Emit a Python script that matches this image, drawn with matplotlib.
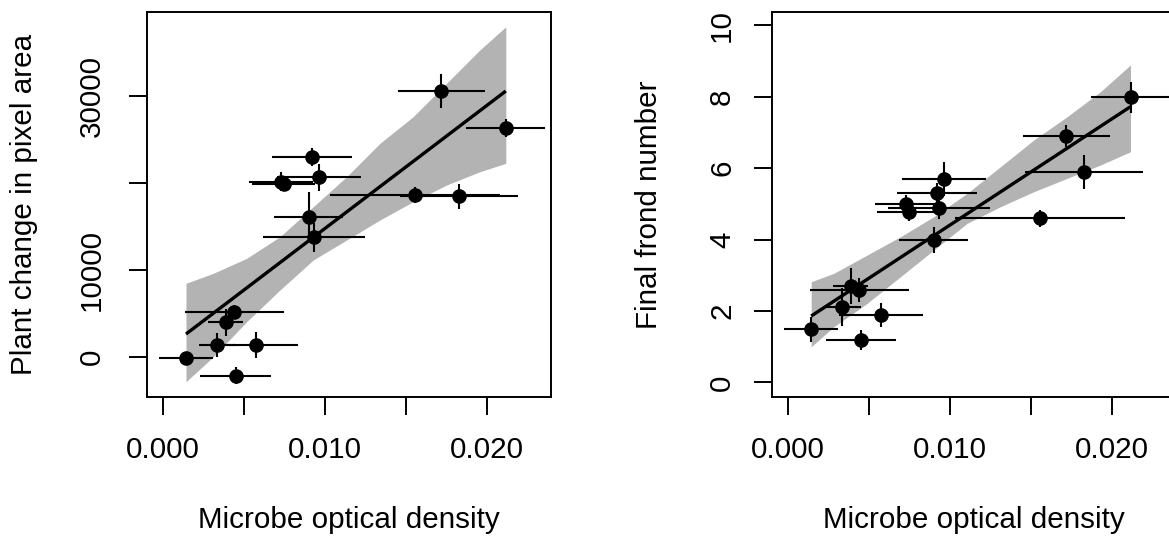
import numpy as np
import matplotlib
matplotlib.use("Agg")
import matplotlib.pyplot as plt

plt.rcParams["font.family"] = ["Liberation Sans", "DejaVu Sans"]

# ------------------------------------------------------------
# Data (one entry per microbe)
# ------------------------------------------------------------
microbe_od = [0.00144, 0.00450, 0.00337, 0.00573, 0.00389, 0.00440, 0.00932, 0.00899,
              0.00730, 0.00746, 0.00965, 0.00920, 0.01555, 0.01827, 0.01718, 0.02114]
microbe_od_err = [0.00166, 0.00217, 0.00114, 0.00260, 0.00108, 0.00305, 0.00315, 0.00212,
                  0.00195, 0.00195, 0.00260, 0.00247, 0.00524, 0.00366, 0.00270, 0.00242]

pixel_area = [-180, -2180, 1350, 1350, 3950, 5170, 13720, 16090,
              20100, 19900, 20620, 22920, 18590, 18470, 30580, 26250]
pixel_area_err = [575, 1000, 1340, 1475, 1530, 770, 1630, 2870,
                  1100, 900, 1570, 1050, 960, 1440, 1970, 1035]

frond_number = [1.49, 1.18, 2.12, 1.89, 2.70, 2.59, 4.87, 3.99,
                4.99, 4.78, 5.69, 5.29, 4.59, 5.90, 6.90, 7.98]
frond_number_err = [0.35, 0.28, 0.53, 0.34, 0.51, 0.33, 0.30, 0.36,
                    0.26, 0.25, 0.48, 0.30, 0.24, 0.48, 0.30, 0.43]

# fitted line (end points) and credible band
area_fit_x = [0.001436, 0.021152]
area_fit_y = [2609, 30540]
area_band_x = [0.001436, 0.003118, 0.005176, 0.007227, 0.009279, 0.011337,
               0.013389, 0.015440, 0.017499, 0.019550, 0.021152]
area_band_lo = [-2874, 0, 4023, 7667, 11115, 13414, 15713, 17816, 19736, 21264, 22230]
area_band_hi = [8437, 9586, 11310, 13793, 17241, 20690, 24529, 27586, 31425, 35253, 37931]

frond_fit_x = [0.001443, 0.021128]
frond_fit_y = [1.857, 7.72]
frond_band_x = [0.001443, 0.002836, 0.004895, 0.006948, 0.009001, 0.011060,
                0.013114, 0.015166, 0.017226, 0.019279, 0.021128]
frond_band_lo = [0.997, 1.557, 2.213, 2.958, 3.706, 4.454, 4.919, 5.339, 5.714, 6.087, 6.459]
frond_band_hi = [2.818, 3.053, 3.566, 4.078, 4.639, 5.294, 6.039, 6.787, 7.440, 8.140, 8.888]

# axes ticks
od_ticks = [0.0, 0.005, 0.010, 0.015, 0.020]
od_tick_labels = ["0.000", "", "0.010", "", "0.020"]
area_ticks = [0, 10000, 20000, 30000]
area_tick_labels = ["0", "10000", "", "30000"]
frond_ticks = [0, 2, 4, 6, 8, 10]
frond_tick_labels = ["0", "2", "4", "6", "8", "10"]

FS = 21.3
BAND = "#b3b3b3"


def draw_panel(ax, y, yerr, fit_x, fit_y, band_x, band_lo, band_hi,
               yticks, ytick_labels, ylabel, ylim, ypad):
    ax.fill_between(band_x, band_lo, band_hi, color=BAND, linewidth=0, zorder=1)
    ax.plot(fit_x, fit_y, color="black", linewidth=2.4, solid_capstyle="butt", zorder=2)
    ax.errorbar(microbe_od, y, xerr=microbe_od_err, yerr=yerr, fmt="none",
                ecolor="black", elinewidth=1.5, capsize=0, zorder=3)
    ax.plot(microbe_od, y, "o", color="black", markersize=9.5, zorder=4)

    ax.set_xlim(-0.00095, 0.02392)
    ax.set_ylim(*ylim)
    ax.set_xticks(od_ticks)
    ax.set_xticklabels(od_tick_labels)
    ax.set_yticks(yticks)
    ax.set_yticklabels(ytick_labels, rotation=90, va="center")

    ax.tick_params(axis="both", length=13, width=1.4, labelsize=FS, color="black")
    ax.tick_params(axis="x", pad=15)
    ax.tick_params(axis="y", pad=ypad)
    for sp in ax.spines.values():
        sp.set_linewidth(1.4)

    ax.set_xlabel("Microbe optical density", fontsize=FS)
    ax.xaxis.set_label_coords(0.5, -0.283)
    ax.set_ylabel(ylabel, fontsize=FS)
    ax.yaxis.set_label_coords(-0.27, 0.5)


fig = plt.figure(figsize=(11.69, 5.42), dpi=100)
ax1 = fig.add_axes([0.1260, 0.2675, 0.3451, 0.7103])
ax2 = fig.add_axes([0.6607, 0.2675, 0.3451, 0.7103])

draw_panel(ax1, pixel_area, pixel_area_err, area_fit_x, area_fit_y,
           area_band_x, area_band_lo, area_band_hi,
           area_ticks, area_tick_labels, "Plant change in pixel area",
           (-4630, 39620), 17)
draw_panel(ax2, frond_number, frond_number_err, frond_fit_x, frond_fit_y,
           frond_band_x, frond_band_lo, frond_band_hi,
           frond_ticks, frond_tick_labels, "Final frond number",
           (-0.41, 10.37), 13)

fig.savefig("out.png", dpi=100)
